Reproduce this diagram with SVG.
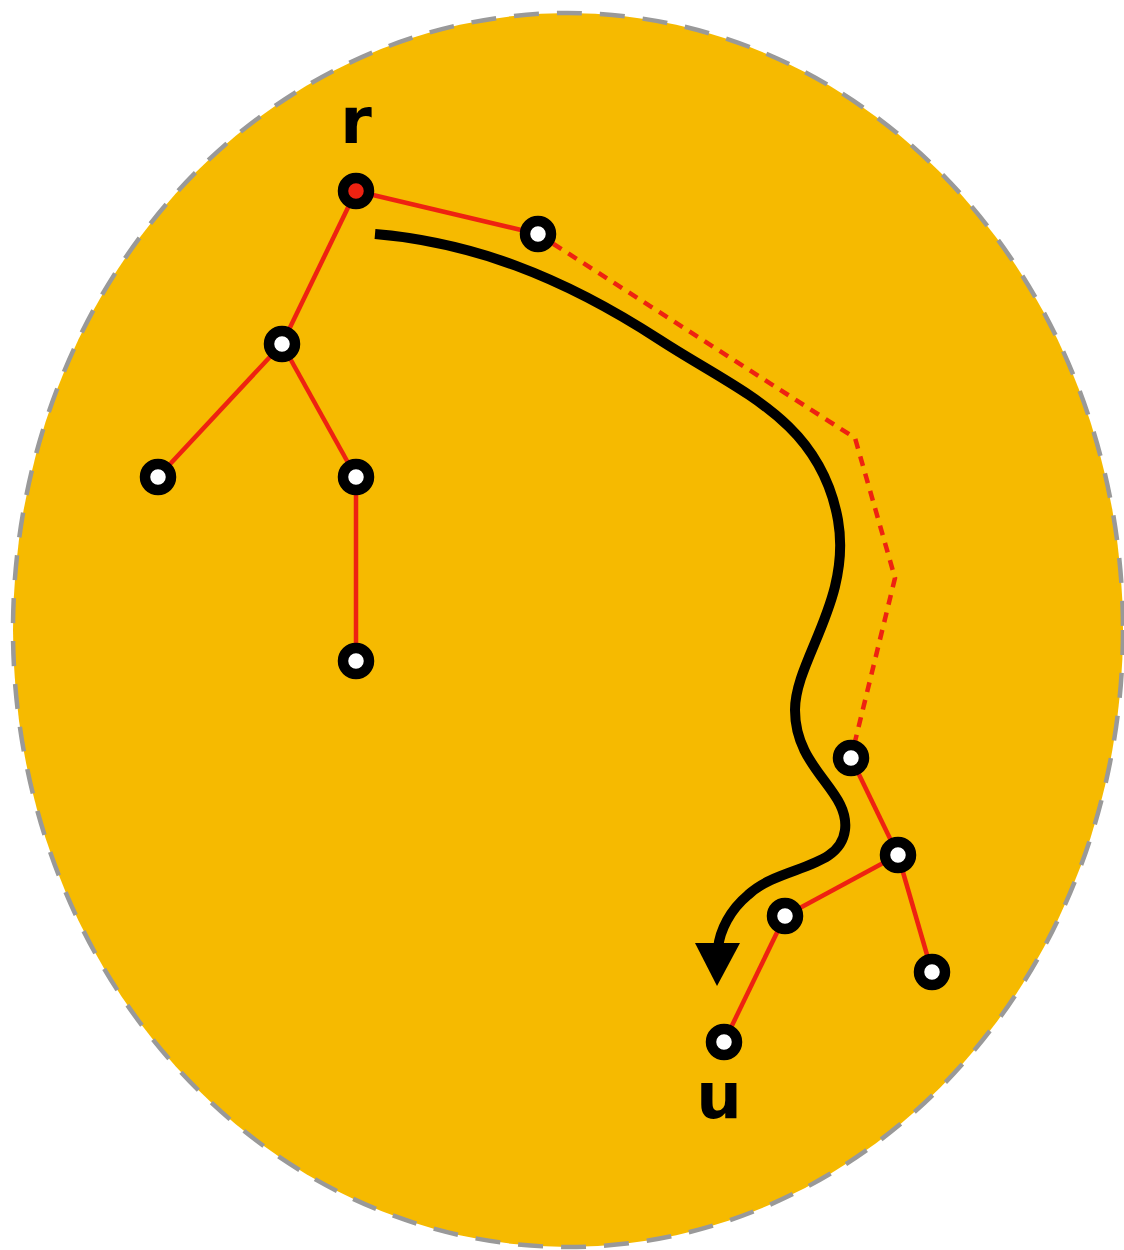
<svg xmlns="http://www.w3.org/2000/svg" width="1124" height="1250" viewBox="0 0 1124 1250">
<style>
.edge{stroke:#EE2211;stroke-width:4.5;fill:none}
.dash{stroke:#EE2211;stroke-width:4.5;fill:none;stroke-dasharray:10 8}
.node{fill:#fff;stroke:#000;stroke-width:10.5}
.lbl{font-family:"DejaVu Sans",sans-serif;font-weight:bold;font-size:64px;fill:#000;text-anchor:middle}
</style>
<rect width="1124" height="1250" fill="#fff"/>
<ellipse cx="568" cy="630" rx="555" ry="617" fill="#F6BA00" stroke="#999" stroke-width="4.5" stroke-dasharray="25 18"/>
<g id="connectors">
<line class="edge" x1="356" y1="191" x2="538" y2="234"/>
<line class="edge" x1="356" y1="191" x2="282" y2="344"/>
<line class="edge" x1="282" y1="344" x2="158" y2="477"/>
<line class="edge" x1="282" y1="344" x2="356" y2="477"/>
<line class="edge" x1="356" y1="477" x2="356" y2="661"/>
<polyline class="dash" points="538,234 855,438 895,578 851,758"/>
<line class="edge" x1="851" y1="758" x2="898" y2="855"/>
<line class="edge" x1="898" y1="855" x2="785" y2="916"/>
<line class="edge" x1="898" y1="855" x2="932" y2="972"/>
<line class="edge" x1="785" y1="916" x2="724" y2="1042"/>
<path d="M375,234 C470,242 560,275 660,340 C740,392 820,420 838,520 C852,600 795,660 795,710 C795,770 850,790 845,830 C840,870 780,865 748,895 C730,910 720,930 718,948" fill="none" stroke="#000" stroke-width="10"/>
<polygon points="695,943 740,943 717,986" fill="#000"/>
</g>
<g id="node-r"><circle class="node" cx="356" cy="191" r="13" style="fill:#EE2211"/><text class="lbl" x="356" y="143">r</text></g>
<g id="node-a"><circle class="node" cx="538" cy="234" r="13"/></g>
<g id="node-b"><circle class="node" cx="282" cy="344" r="13"/></g>
<g id="node-c"><circle class="node" cx="158" cy="477" r="13"/></g>
<g id="node-d"><circle class="node" cx="356" cy="477" r="13"/></g>
<g id="node-e"><circle class="node" cx="356" cy="661" r="13"/></g>
<g id="node-f"><circle class="node" cx="851" cy="758" r="13"/></g>
<g id="node-g"><circle class="node" cx="898" cy="855" r="13"/></g>
<g id="node-h"><circle class="node" cx="785" cy="916" r="13"/></g>
<g id="node-i"><circle class="node" cx="932" cy="972" r="13"/></g>
<g id="node-u"><circle class="node" cx="724" cy="1042" r="13"/><text class="lbl" x="719" y="1118">u</text></g>
</svg>
